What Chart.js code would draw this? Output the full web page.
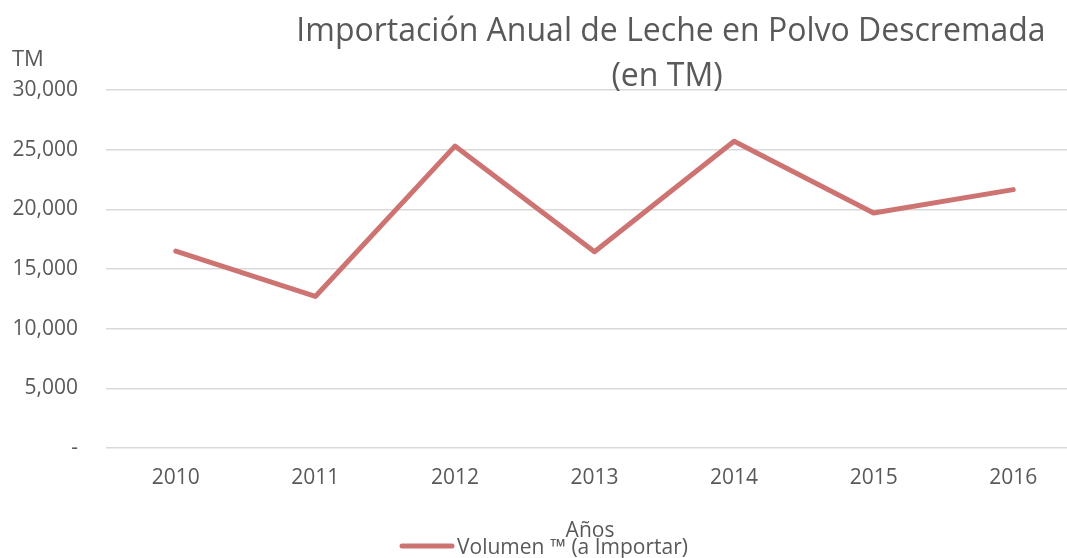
<!DOCTYPE html>
<html>
<head>
<meta charset="utf-8">
<script src="https://cdn.jsdelivr.net/npm/chart.js@4.4.1/dist/chart.umd.min.js"></script>
<style>
  html, body { margin: 0; padding: 0; background: #fff; overflow: hidden; }
  #wrap { width: 1083px; height: 558px; position: relative; }
</style>
</head>
<body>
<div id="wrap"><canvas id="c"></canvas></div>
<script>
const categories = ['2010', '2011', '2012', '2013', '2014', '2015', '2016'];
const volumen = [16500, 12700, 25300, 16450, 25700, 19700, 21650];
const seriesLabel = 'Volumen \u2122 (a Importar)';
const titleLines = ['Importación Anual de Leche en Polvo Descremada', '(en TM)'];
const yAxisTitle = 'TM';
const xAxisTitle = 'Años';

const TEXT = '#595959';
const FONT = "'Open Sans', 'DejaVu Sans', sans-serif";
const LINE = '#cd7472';

const overlay = {
  id: 'overlay',
  afterDraw(chart) {
    const ctx = chart.ctx;
    ctx.save();
    ctx.fillStyle = TEXT;
    ctx.textBaseline = 'middle';
    // title
    ctx.textAlign = 'center';
    ctx.font = '32px ' + FONT;
    ctx.fillText(titleLines[0], 671, 32);
    ctx.fillText(titleLines[1], 667, 77);
    // y axis title
    ctx.textAlign = 'left';
    ctx.font = '22px ' + FONT;
    ctx.fillText(yAxisTitle, 12, 60);
    // x axis title
    ctx.font = '21px ' + FONT;
    ctx.textAlign = 'center';
    ctx.fillText(xAxisTitle, 590, 531);
    // legend
    const ds = chart.data.datasets[0];
    ctx.strokeStyle = ds.borderColor;
    ctx.lineWidth = 5;
    ctx.lineCap = 'round';
    ctx.beginPath();
    ctx.moveTo(402, 546);
    ctx.lineTo(452, 546);
    ctx.stroke();
    ctx.textAlign = 'left';
    ctx.fillText(ds.label, 457, 548);
    ctx.restore();
  }
};

new Chart(document.getElementById('c'), {
  type: 'line',
  data: {
    labels: categories,
    datasets: [{
      label: seriesLabel,
      data: volumen,
      borderColor: LINE,
      backgroundColor: LINE,
      borderWidth: 5,
      borderCapStyle: 'round',
      borderJoinStyle: 'round',
      pointRadius: 0,
      pointHoverRadius: 0,
      tension: 0,
      fill: false
    }]
  },
  options: {
    responsive: true,
    maintainAspectRatio: false,
    animation: false,
    layout: { padding: { top: 90, bottom: 0, left: 0, right: 0 } },
    plugins: {
      legend: { display: false },
      title: { display: false },
      tooltip: { enabled: false }
    },
    scales: {
      x: {
        offset: true,
        grid: { display: false, drawTicks: false },
        border: { display: false },
        ticks: { color: TEXT, font: { family: FONT, size: 21 }, padding: 17, maxRotation: 0 },
        afterFit(scale) { scale.height = 110; }
      },
      y: {
        min: 0,
        max: 30000,
        grid: { color: '#d9d9d9', lineWidth: 1.5, drawTicks: false },
        border: { display: false },
        ticks: {
          stepSize: 5000,
          color: TEXT,
          font: { family: FONT, size: 21 },
          padding: 28,
          callback: v => v === 0 ? '-' : v.toLocaleString('en-US')
        },
        afterFit(scale) { scale.width = 106; }
      }
    }
  },
  plugins: [overlay]
});
</script>
</body>
</html>
